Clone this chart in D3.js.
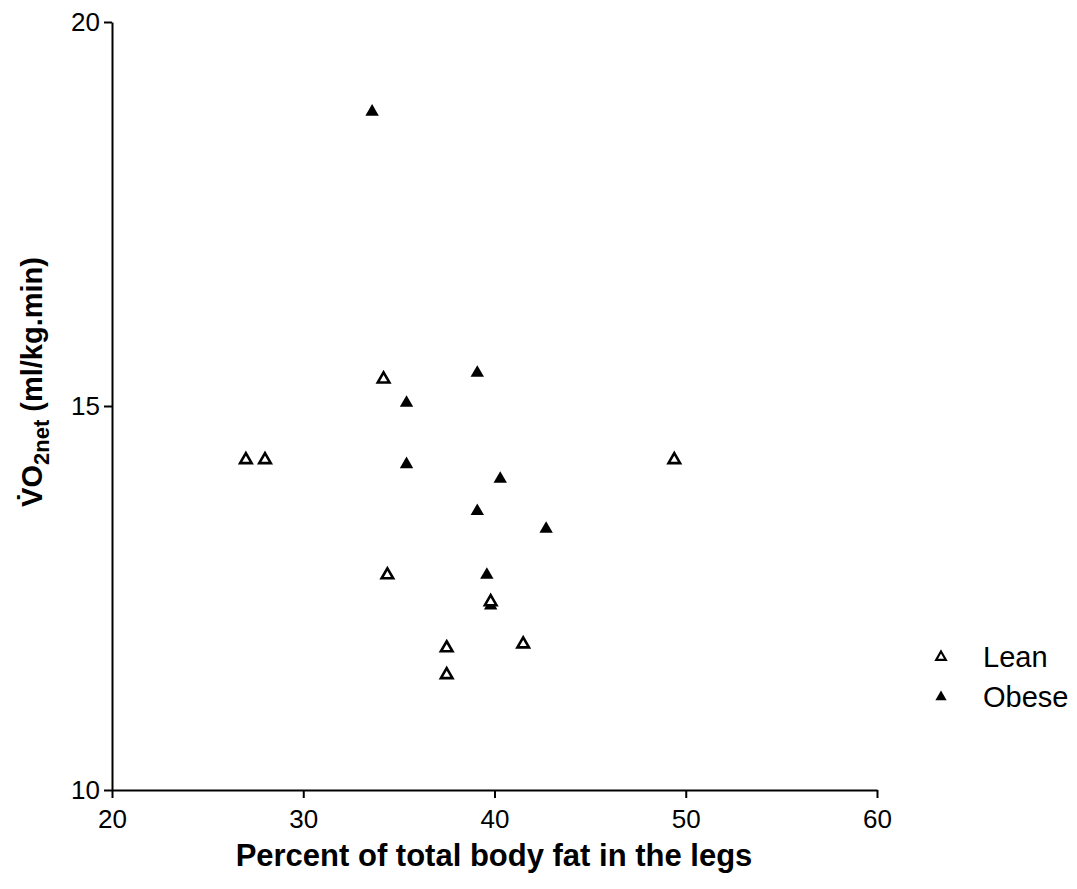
<!DOCTYPE html>
<html>
<head>
<meta charset="utf-8">
<script src="https://cdn.jsdelivr.net/npm/d3@7"></script>
<style>
  body { margin: 0; background: #fff; }
  text { font-family: "Liberation Sans", Arial, sans-serif; fill: #000; }
</style>
</head>
<body>
<div id="chart-container"></div>
<script>
// Data
const leanX = [27.0, 28.0, 34.2, 49.4, 34.4, 39.8, 37.5, 41.5, 37.5];
const leanY = [14.3, 14.3, 15.35, 14.3, 12.8, 12.45, 11.85, 11.9, 11.5];
const obeseX = [33.6, 39.1, 35.4, 35.4, 40.3, 39.1, 42.7, 39.6, 39.8];
const obeseY = [18.83, 15.43, 15.04, 14.24, 14.05, 13.63, 13.4, 12.8, 12.4];
const xTicks = [20, 30, 40, 50, 60];
const yTicks = [10, 15, 20];
const seriesNames = ["Lean", "Obese"];

const width = 1077, height = 889;
const margin = { top: 22, right: 200, bottom: 99, left: 112 };
const innerW = 877 - margin.left;
const innerH = 790 - margin.top;

const x = d3.scaleLinear().domain([20, 60]).range([0, innerW]);
const y = d3.scaleLinear().domain([10, 20]).range([innerH, 0]);

const svg = d3.select("#chart-container")
    .append("svg")
    .attr("width", width)
    .attr("height", height);

const g = svg.append("g")
    .attr("transform", `translate(${margin.left},${margin.top})`);

// Axes
const xAxis = g.append("g")
    .attr("transform", `translate(0,${innerH})`)
    .call(d3.axisBottom(x).tickValues(xTicks).tickSize(8).tickSizeOuter(0).tickPadding(12));

const yAxis = g.append("g")
    .call(d3.axisLeft(y).tickValues(yTicks).tickSize(8).tickSizeOuter(0).tickPadding(4));

[xAxis, yAxis].forEach(a => {
    a.select(".domain").attr("stroke", "#000").attr("stroke-width", 2);
    a.selectAll(".tick line").attr("stroke", "#000").attr("stroke-width", 2);
    a.selectAll(".tick text")
        .style("font-size", "26px")
        .style("font-family", "'Liberation Sans', Arial, sans-serif")
        .attr("fill", "#000");
});

// Points
const tri = d3.symbol().type(d3.symbolTriangle);
const lean = leanX.map((v, i) => ({ x: v, y: leanY[i] }));
const obese = obeseX.map((v, i) => ({ x: v, y: obeseY[i] }));

g.selectAll(".obese")
    .data(obese)
    .join("path")
    .attr("class", "obese")
    .attr("transform", d => `translate(${x(d.x)},${y(d.y)})`)
    .attr("d", tri.size(78)())
    .attr("fill", "#000");

g.selectAll(".lean")
    .data(lean)
    .join("path")
    .attr("class", "lean")
    .attr("transform", d => `translate(${x(d.x)},${y(d.y)})`)
    .attr("d", tri.size(58)())
    .attr("fill", "#fff")
    .attr("stroke", "#000")
    .attr("stroke-width", 2.6);

// Axis titles
svg.append("text")
    .attr("x", 494)
    .attr("y", 866)
    .attr("text-anchor", "middle")
    .style("font-size", "31px")
    .style("font-weight", "bold")
    .text("Percent of total body fat in the legs");

const yl = svg.append("text")
    .attr("transform", "translate(42,382) rotate(-90)")
    .attr("text-anchor", "middle")
    .style("font-size", "29px")
    .style("font-weight", "bold");
yl.append("tspan").text("V\u0307O");
yl.append("tspan").attr("dy", 7).style("font-size", "22px").text("2net");
yl.append("tspan").attr("dy", -7).text(" (ml/kg.min)");

// Legend
const legend = svg.append("g").attr("transform", "translate(941,657)");
seriesNames.forEach((name, i) => {
    const row = legend.append("g").attr("transform", `translate(0,${i * 40})`);
    if (i === 0) {
        row.append("path").attr("d", tri.size(40)())
            .attr("fill", "#fff").attr("stroke", "#000").attr("stroke-width", 2.2);
    } else {
        row.append("path").attr("d", tri.size(55)()).attr("fill", "#000");
    }
    row.append("text")
        .attr("x", 42)
        .attr("dy", "0.36em")
        .style("font-size", "29px")
        .text(name);
});
</script>
</body>
</html>
